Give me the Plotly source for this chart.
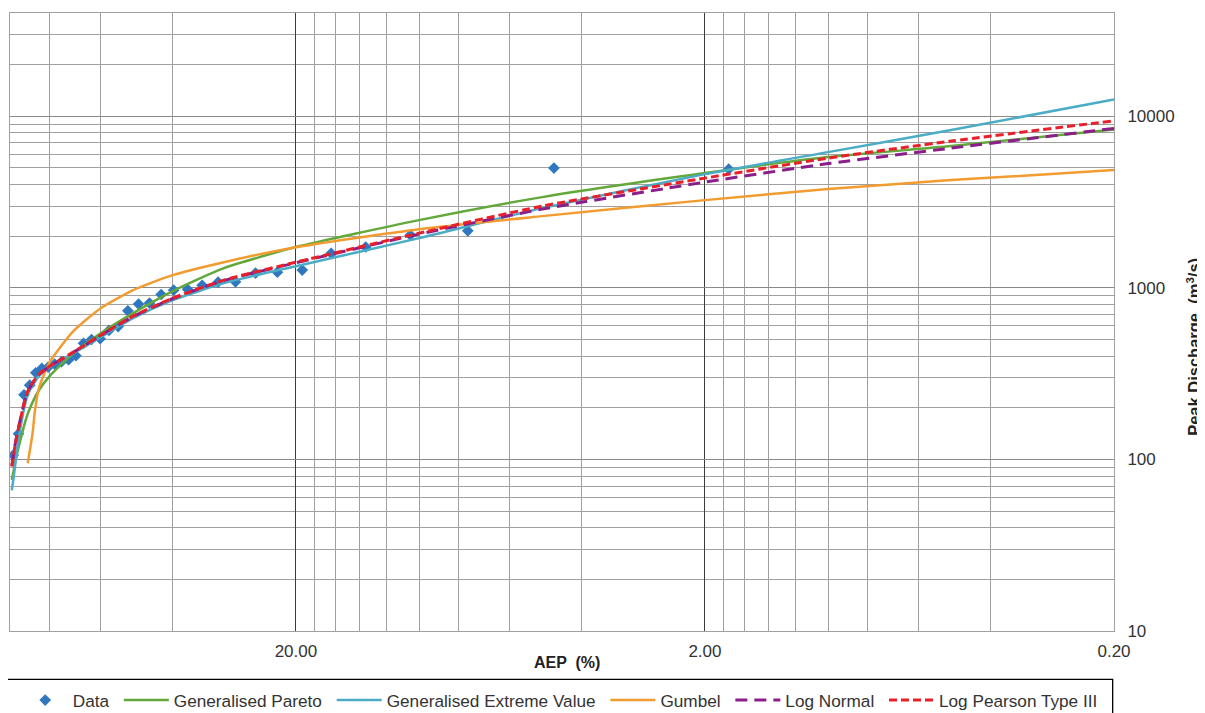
import plotly.graph_objects as go

# ---------------- data ----------------
data_aep = [1.75, 4.68, 7.60, 10.5, 13.5, 16.4, 19.3, 22.2, 25.1, 28.1, 31.0, 33.9,
            36.8, 39.8, 42.7, 45.6, 48.5, 51.5, 54.4, 57.3, 60.2, 63.2, 66.1, 69.0,
            71.9, 74.9, 77.8, 80.7, 83.6, 86.5, 89.5, 92.4, 95.3, 98.2]
data_q = [4920, 4990, 2150, 2030, 1730, 1590, 1270, 1235, 1220, 1085, 1080, 1035,
          980, 970, 915, 815, 805, 735, 595, 565, 505, 500, 475, 402,
          381, 370, 359, 345, 339, 320, 271, 238, 141, 106]

fit_aep = [99, 98, 97, 95, 92, 90, 85, 80, 70, 60, 50, 40, 30, 20, 10, 5, 2, 1, 0.5, 0.2]
gpa_q = [76, 86, 98, 121, 163, 191, 253, 306, 416, 544, 712, 957, 1303, 1730,
         2482, 3380, 4666, 5782, 6703, 8389]
gev_q = [66, 78, 95, 137, 207, 247, 306, 345, 416, 516, 666, 848, 1065, 1338,
         1949, 2915, 4603, 6184, 8310, 12550]
ln_q = [92, 107, 125, 159, 220, 255, 312, 348, 421, 528, 681, 867, 1103, 1400,
        2056, 2877, 4133, 5300, 6526, 8502]
lp3_q = [91, 106, 124, 158, 221, 257, 314, 349, 422, 530, 684, 871, 1109, 1412,
         2084, 2995, 4362, 5705, 7168, 9415]

gum_aep = [90.5, 89, 88, 87, 85, 80, 70, 60, 50, 40, 30, 20, 10, 5, 2, 1, 0.5, 0.2]
gum_q = [95, 121, 144, 188, 260, 369, 559, 761, 970, 1186, 1412, 1727, 2199,
         2619, 3246, 3763, 4246, 4858]

series_names = ["Data", "Generalised Pareto", "Generalised Extreme Value",
                "Gumbel", "Log Normal", "Log Pearson Type III"]

x_tickvals = [0.2, 2, 20]
x_ticktext = ["0.20", "2.00", "20.00"]
x_minorvals = [0.4, 0.6, 0.8, 1.0, 1.2, 1.4, 1.6, 1.8,
               4, 6, 8, 10, 12, 14, 16, 18, 40, 60, 80]
y_tickvals = [10, 100, 1000, 10000]
y_ticktext = ["10", "100", "1000", "10000"]
y_minorvals = [20, 30, 40, 50, 60, 70, 80, 90,
               200, 300, 400, 500, 600, 700, 800, 900,
               2000, 3000, 4000, 5000, 6000, 7000, 8000, 9000,
               20000, 30000]

FONT = "Liberation Sans, Arial, sans-serif"
PAD = "\u00a0"  # small spacer after legend labels

fig = go.Figure()
fig.add_trace(go.Scatter(x=data_aep, y=data_q, mode="markers", name=series_names[0] + PAD,
                         marker=dict(symbol="diamond", size=9, color="#2F78C0")))
fig.add_trace(go.Scatter(x=fit_aep, y=gpa_q, mode="lines", name=series_names[1] + PAD,
                         line=dict(color="#62A83A", width=2.5, shape="spline", smoothing=0.6)))
fig.add_trace(go.Scatter(x=fit_aep, y=gev_q, mode="lines", name=series_names[2] + PAD,
                         line=dict(color="#4BACC6", width=2.5, shape="spline", smoothing=0.6)))
fig.add_trace(go.Scatter(x=gum_aep, y=gum_q, mode="lines", name=series_names[3] + PAD,
                         line=dict(color="#F29B30", width=2.5, shape="spline", smoothing=0.6)))
fig.add_trace(go.Scatter(x=fit_aep, y=ln_q, mode="lines", name=series_names[4] + PAD,
                         line=dict(color="#8B1E8B", width=3, dash="12px,7px",
                                   shape="spline", smoothing=0.6)))
fig.add_trace(go.Scatter(x=fit_aep, y=lp3_q, mode="lines", name=series_names[5],
                         line=dict(color="#E8202A", width=3, dash="8px,4px",
                                   shape="spline", smoothing=0.6)))

fig.update_xaxes(type="log", range=[2, -0.69897], tickmode="array",
                 tickvals=x_tickvals, ticktext=x_ticktext,
                 showgrid=True, gridcolor="#3a3a3a", gridwidth=1,
                 minor=dict(tickmode="array", tickvals=x_minorvals, showgrid=True,
                            gridcolor="#a0a0a0", gridwidth=1, ticks=""),
                 showline=True, mirror=True, linecolor="#a0a0a0", linewidth=1,
                 ticks="outside", ticklen=5, tickcolor="rgba(0,0,0,0)",
                 tickfont=dict(family=FONT, size=17, color="#333333"),
                 zeroline=False)
fig.update_yaxes(type="log", range=[1, 4.60206], side="right", tickmode="array",
                 tickvals=y_tickvals, ticktext=y_ticktext,
                 showgrid=True, gridcolor="#8a8a8a", gridwidth=1,
                 minor=dict(tickmode="array", tickvals=y_minorvals, showgrid=True,
                            gridcolor="#a0a0a0", gridwidth=1, ticks=""),
                 showline=True, mirror=True, linecolor="#a0a0a0", linewidth=1,
                 ticks="outside", ticklen=9, tickcolor="rgba(0,0,0,0)",
                 tickfont=dict(family=FONT, size=17, color="#333333"),
                 zeroline=False)

fig.add_annotation(text="<b>AEP  (%)</b>", xref="paper", yref="paper",
                   x=0.5044, y=-0.0507, showarrow=False,
                   font=dict(family=FONT, size=16, color="#222222"),
                   xanchor="center", yanchor="middle")
fig.add_annotation(text="<b>Peak Discharge  (m<sup>3</sup>/s)</b>", xref="paper", yref="paper",
                   x=1.0722, y=0.4593, showarrow=False, textangle=-90,
                   font=dict(family=FONT, size=16.5, color="#222222"),
                   xanchor="center", yanchor="middle")

fig.add_shape(type="rect", xref="paper", yref="paper",
              x0=-0.0024, x1=0.9988, y0=-0.0782, y1=-0.16,
              line=dict(color="#000000", width=1.3), fillcolor="rgba(0,0,0,0)")

fig.update_layout(
    width=1197, height=705,
    margin=dict(l=2, r=91, t=5, b=82, autoexpand=False),
    paper_bgcolor="white", plot_bgcolor="white",
    font=dict(family=FONT, size=16, color="#333333"),
    showlegend=True,
    legend=dict(orientation="h", x=0.007, y=-0.0831, xanchor="left", yanchor="top",
                font=dict(family=FONT, size=17.2, color="#333333"),
                itemwidth=45, bgcolor="rgba(0,0,0,0)", borderwidth=0,
                traceorder="normal"),
)

fig.write_html("out.html")
